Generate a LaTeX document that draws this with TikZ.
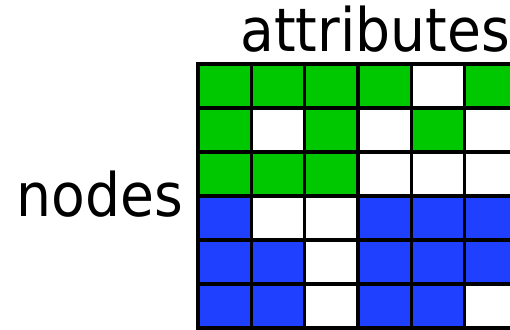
\documentclass[tikz,border=0pt]{standalone}
\usepackage{fontspec}
\setmainfont{DejaVu Sans}
\definecolor{G}{RGB}{0,200,0}
\definecolor{B}{RGB}{32,64,255}
\definecolor{W}{RGB}{255,255,255}
\begin{document}
\begin{tikzpicture}[x=1pt,y=-1pt,
  cell/.style={draw=black,line width=3.5pt},
  lbl/.style={inner sep=0pt,font=\fontsize{60}{66}\selectfont,anchor=base,xscale=0.92}]
\useasboundingbox (0,0) rectangle (510,329);
\def\cw{53.333}
\def\ch{44}
\foreach \row/\pat in {0/{G,G,G,G,W,G},1/{G,W,G,W,G,W},2/{G,G,G,W,W,W},3/{B,W,W,B,B,B},4/{B,B,W,B,B,B},5/{B,B,W,B,B,W}}{
  \foreach \c [count=\col from 0] in \pat {
    \path[cell,fill=\c] (198+\col*\cw,64+\row*\ch) rectangle ++(\cw,\ch);
  }
}
\node[lbl] (attr) at (375,52) {attributes};
\node[lbl] (nodes) at (100,216) {nodes};
\end{tikzpicture}
\end{document}
